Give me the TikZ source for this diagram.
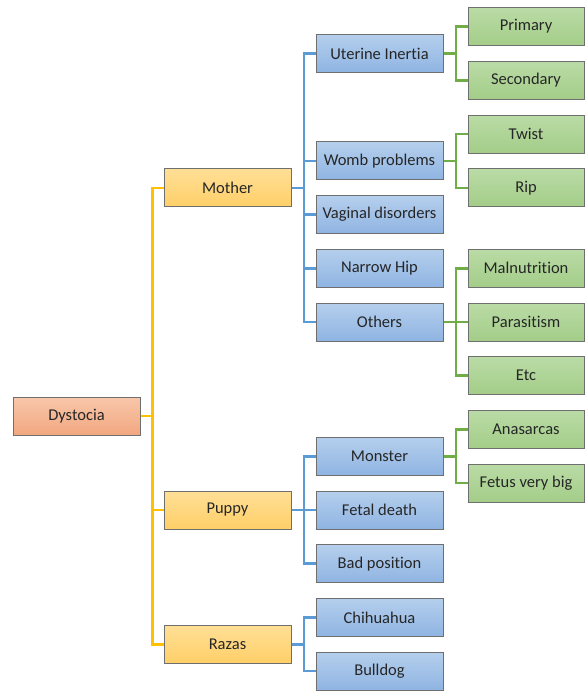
\documentclass[tikz,border=0pt]{standalone}
\usepackage{fontspec}
\setmainfont[Ligatures=NoCommon]{Carlito}
\usetikzlibrary{positioning,calc}

\definecolor{rootA}{HTML}{F8C7AA}
\definecolor{rootB}{HTML}{F2A780}
\definecolor{catA}{HTML}{FFDF96}
\definecolor{catB}{HTML}{FFCF68}
\definecolor{subA}{HTML}{B5CFED}
\definecolor{subB}{HTML}{8FB4E2}
\definecolor{leafA}{HTML}{BADBA6}
\definecolor{leafB}{HTML}{A3CD88}
\definecolor{edgeY}{HTML}{FFC000}
\definecolor{edgeB}{HTML}{5B9BD5}
\definecolor{edgeG}{HTML}{70AD47}
\definecolor{frame}{HTML}{6F6F6F}
\definecolor{ink}{HTML}{262626}

\begin{document}
\begin{tikzpicture}[x=1pt,y=1pt,on grid,node distance=53.7pt and 146.5pt,
    box/.style={draw=frame,line width=1pt,minimum width=127pt,minimum height=38pt,
      inner xsep=0pt,text=ink,font=\fontsize{16.5}{20}\selectfont},
    root/.style={box,top color=rootA,bottom color=rootB},
    cat/.style={box,top color=catA,bottom color=catB},
    sub/.style={box,top color=subA,bottom color=subB},
    leaf/.style={box,minimum width=116pt,top color=leafA,bottom color=leafB},
    yel/.style={draw=edgeY,line width=2.5pt},
    blu/.style={draw=edgeB,line width=2.5pt},
    grn/.style={draw=edgeG,line width=2.5pt}]
  \useasboundingbox (0,0) rectangle (585,-691);

  \node[sub] (ui) at (379.5,-53.5) {Uterine Inertia};
  \node[sub] (womb) [below=107.4pt of ui] {Womb problems};
  \node[sub] (vag) [below=of womb] {Vaginal disorders};
  \node[sub] (hip) [below=of vag] {Narrow Hip};
  \node[sub] (oth) [below=of hip] {Others};
  \node[sub] (mon) [below=134.3pt of oth] {Monster};
  \node[sub] (fet) [below=of mon] {Fetal death};
  \node[sub] (bad) [below=of fet] {Bad position};
  \node[sub] (chi) [below=of bad] {Chihuahua};
  \node[sub] (bull) [below=of chi] {Bulldog};

  \node[leaf] (pri) [above right=26.85pt and 146.5pt of ui] {Primary};
  \node[leaf] (sec) [below=of pri] {Secondary};
  \node[leaf] (twi) [above right=26.85pt and 146.5pt of womb] {Twist};
  \node[leaf] (rip) [below=of twi] {Rip};
  \node[leaf] (mal) [right=of hip] {Malnutrition};
  \node[leaf] (par) [below=of mal] {Parasitism};
  \node[leaf] (etc) [below=of par] {Etc};
  \node[leaf] (ana) [above right=26.85pt and 146.5pt of mon] {Anasarcas};
  \node[leaf] (big) [below=of ana] {Fetus very big};

  \node[cat] (mother) [above left=26.85pt and 152pt of vag] {Mother};
  \node[cat] (puppy) [left=152pt of fet] {Puppy};
  \node[cat] (razas) [below left=26.85pt and 152pt of chi] {Razas};
  \node[root] (dys) at ($(mother)!.5!(razas)+(-151pt,0)$) {Dystocia};

  \foreach \c in {mother,puppy,razas}
    \draw[yel] (dys.east) -- ++(12pt,0) |- (\c.west);
  \foreach \c in {ui,womb,vag,hip,oth}
    \draw[blu] (mother.east) -- ++(12.5pt,0) |- (\c.west);
  \foreach \c in {mon,fet,bad}
    \draw[blu] (puppy.east) -- ++(12.5pt,0) |- (\c.west);
  \foreach \c in {chi,bull}
    \draw[blu] (razas.east) -- ++(12.5pt,0) |- (\c.west);
  \foreach \c in {pri,sec}
    \draw[grn] (ui.east) -- ++(12.5pt,0) |- (\c.west);
  \foreach \c in {twi,rip}
    \draw[grn] (womb.east) -- ++(12.5pt,0) |- (\c.west);
  \foreach \c in {mal,par,etc}
    \draw[grn] (oth.east) -- ++(12.5pt,0) |- (\c.west);
  \foreach \c in {ana,big}
    \draw[grn] (mon.east) -- ++(12.5pt,0) |- (\c.west);
\end{tikzpicture}
\end{document}
